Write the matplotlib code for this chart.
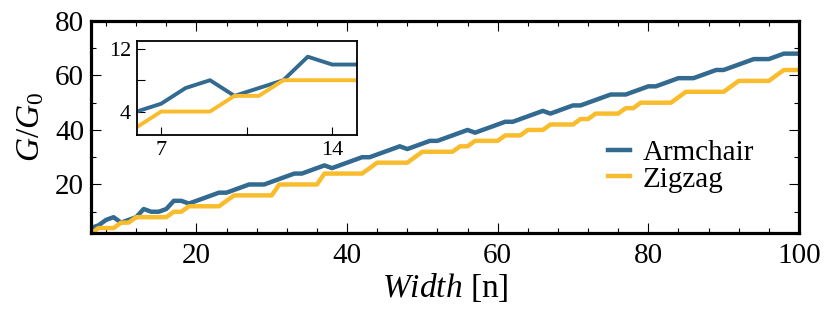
import matplotlib
matplotlib.use("Agg")
import matplotlib.pyplot as plt
from matplotlib.ticker import MultipleLocator

plt.rcParams['font.family'] = 'Liberation Serif'
plt.rcParams['mathtext.fontset'] = 'custom'
plt.rcParams['mathtext.rm'] = 'Liberation Serif'
plt.rcParams['mathtext.it'] = 'Liberation Serif:italic'

# ribbon width n = 6 ... 100
width = list(range(6, 101))

armchair = [4, 5, 7, 8, 6, 7, 8, 11, 10, 10,
            11, 14, 14, 13, 14, 15, 16, 17, 17, 18,
            19, 20, 20, 20, 21, 22, 23, 24, 24, 25,
            26, 27, 26, 27, 28, 29, 30, 30, 31, 32,
            33, 34, 33, 34, 35, 36, 36, 37, 38, 39,
            40, 39, 40, 41, 42, 43, 43, 44, 45, 46,
            47, 46, 47, 48, 49, 49, 50, 51, 52, 53,
            53, 53, 54, 55, 56, 56, 57, 58, 59, 59,
            59, 60, 61, 62, 62, 63, 64, 65, 66, 66,
            66, 67, 68, 68, 68]

zigzag = [2, 4, 4, 4, 6, 6, 8, 8, 8, 8,
          8, 10, 10, 12, 12, 12, 12, 12, 14, 16,
          16, 16, 16, 16, 16, 20, 20, 20, 20, 20,
          20, 24, 24, 24, 24, 24, 24, 26, 28, 28,
          28, 28, 28, 30, 32, 32, 32, 32, 32, 34,
          34, 36, 36, 36, 36, 38, 38, 38, 40, 40,
          40, 42, 42, 42, 42, 44, 44, 46, 46, 46,
          46, 48, 48, 50, 50, 50, 50, 50, 52, 54,
          54, 54, 54, 54, 54, 56, 58, 58, 58, 58,
          58, 60, 62, 62, 62]

blue = "#336a90"
yellow = "#f9bc2d"

fig = plt.figure(figsize=(8.3, 3.17), dpi=100)
ax = fig.add_axes([0.1096, 0.265, 0.853, 0.669])

ax.plot(width, armchair, c=blue, lw=3.2, label="Armchair")
ax.plot(width, zigzag, c=yellow, lw=3.2, label="Zigzag")

ax.set_xlim(6, 100)
ax.set_ylim(2.2, 80)
ax.xaxis.set_major_locator(MultipleLocator(20))
ax.xaxis.set_minor_locator(MultipleLocator(4))
ax.yaxis.set_major_locator(MultipleLocator(20))
ax.yaxis.set_minor_locator(MultipleLocator(10))
ax.tick_params(axis="both", which="both", direction="in", top=True, right=True,
               labelsize=21, width=0.8)
ax.tick_params(axis="x", pad=7)
ax.tick_params(axis="y", pad=5)
ax.tick_params(which="major", length=7)
ax.tick_params(which="minor", length=3.5)
for s in ax.spines.values():
    s.set_linewidth(2.3)

ax.set_xlabel(r"$\mathit{Width}$ [n]", fontsize=24, labelpad=2)
ax.set_ylabel(r"$G/G_\mathit{0}$", fontsize=24, labelpad=6)

ax.legend(loc="upper left", bbox_to_anchor=(0.73, 0.44), frameon=False,
          fontsize=21, handlelength=0.75, handletextpad=0.45,
          labelspacing=0.0, borderpad=0, borderaxespad=0)

# inset: small widths
ins = fig.add_axes([0.1647, 0.574, 0.265, 0.2965])
ins.plot(width, armchair, c=blue, lw=2.8)
ins.plot(width, zigzag, c=yellow, lw=2.8)
ins.set_xlim(6, 15)
ins.set_ylim(1, 13)
ins.set_xticks([7, 14])
ins.set_yticks([4, 12])
ins.xaxis.set_minor_locator(MultipleLocator(3.5))
ins.yaxis.set_minor_locator(MultipleLocator(4))
ins.tick_params(axis="both", which="both", direction="in", length=6,
                width=0.8, labelsize=16, pad=4)
for s in ins.spines.values():
    s.set_linewidth(1.3)

fig.savefig("out.png", dpi=100)
